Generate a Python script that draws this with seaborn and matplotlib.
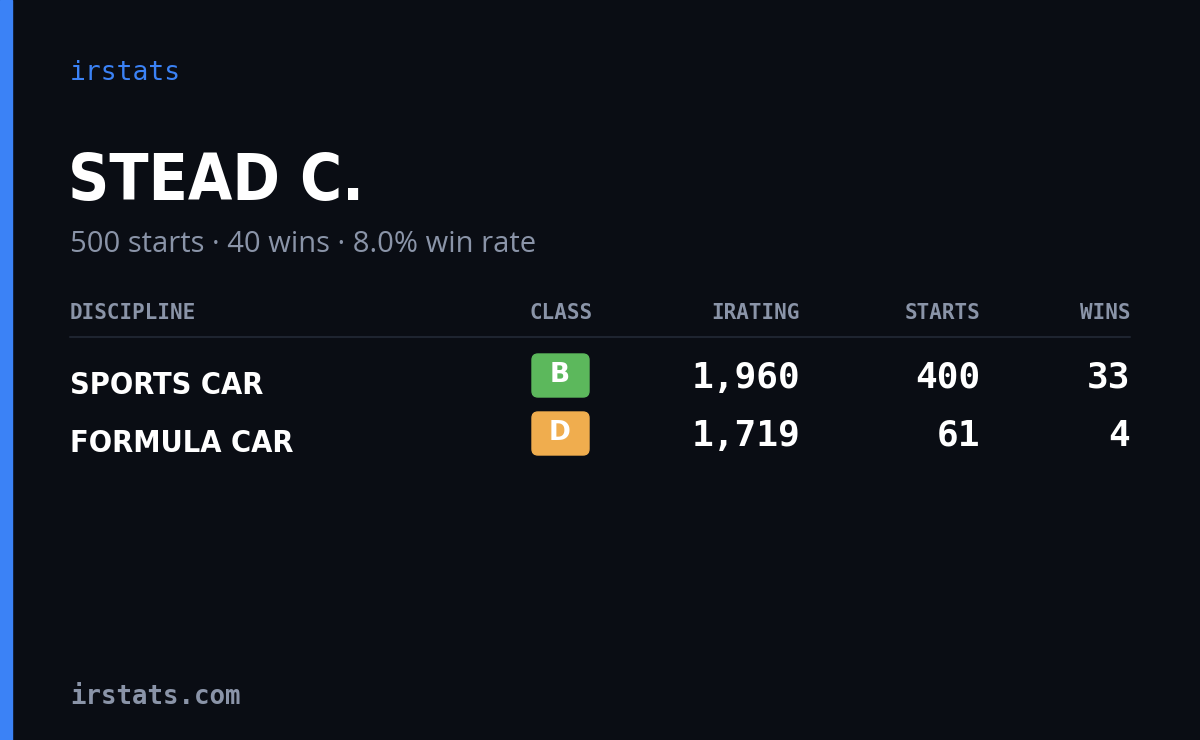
import matplotlib
matplotlib.use("Agg")
import matplotlib.pyplot as plt
import seaborn as sns
from matplotlib.patches import FancyBboxPatch, Rectangle
from matplotlib import font_manager

disciplines = ["SPORTS CAR", "FORMULA CAR"]
classes = ["B", "D"]
class_colors = ["#5cb85c", "#f0ad4e"]
iratings = [1960, 1719]
starts = [400, 61]
wins = [33, 4]
headers = ["DISCIPLINE", "CLASS", "IRATING", "STARTS", "WINS"]
name = "STEAD C."
total_starts, total_wins = 500, 40

sns.set_theme(style="dark")
BG = "#0a0d14"
fig = plt.figure(figsize=(12, 7.4), dpi=100, facecolor=BG)
ax = fig.add_axes([0, 0, 1, 1])
ax.set_facecolor(BG)
ax.set_xlim(0, 1200); ax.set_ylim(740, 0); ax.axis("off")

ax.add_patch(Rectangle((0, 0), 12, 740, color="#3b82f6"))
mono = "DejaVu Sans Mono"
ax.text(70, 73, "irstats", color="#3b82f6", fontsize=19, family=mono, va="center")

cond_kw = dict(family="DejaVu Sans", stretch="condensed", weight="bold")
try:
    font_manager.findfont("Liberation Sans Narrow", fallback_to_default=False)
    cond_kw = dict(family="Liberation Sans Narrow", weight="bold")
except Exception:
    pass

t = ax.text(68, 182, name, color="white", fontsize=62, va="center", **cond_kw)
fig.canvas.draw()
w = t.get_window_extent().width
if w > 285:
    t.set_fontsize(62 * 0.5 + 62 * 0.5 * 272 / w)
    t.set_fontsize(62 * 272 / w if w > 272 else 62)
    t.set_fontsize(max(46, t.get_fontsize()))
ax.text(70, 245, f"{total_starts} starts · {total_wins} wins · {total_wins/total_starts*100:.1f}% win rate",
        color="#8a94a8", fontsize=21, family="Open Sans", va="center")

hx = [(70, "left"), (593, "right"), (800, "right"), (980, "right"), (1130, "right")]
for (x, ha), h in zip(hx, headers):
    ax.text(x, 313, h, color="#8a94a8", fontsize=15, family=mono, ha=ha, va="center", weight="bold")
ax.plot([70, 1130], [337, 337], color="#1e2430", lw=1.5)

for i, d in enumerate(disciplines):
    y = 382 + i * 58
    ax.text(70, y + 3, d, color="white", fontsize=22, va="center", **cond_kw)
    ax.add_patch(FancyBboxPatch((532, y - 28), 57, 43, boxstyle="round,pad=0,rounding_size=6",
                                color=class_colors[i]))
    ax.text(560, y - 7, classes[i], color="white", fontsize=19, weight="bold", ha="center", va="center")
    for x, v in [(800, f"{iratings[i]:,}"), (980, f"{starts[i]}"), (1130, f"{wins[i]}")]:
        ax.text(x, y - 4, v, color="white", fontsize=26, family=mono, ha="right", va="center", weight="bold")

ax.text(70, 697, "irstats.com", color="#8a94a8", fontsize=18.5, family=mono, va="center", weight="bold")
fig.savefig("out.png", dpi=100, facecolor=BG)
